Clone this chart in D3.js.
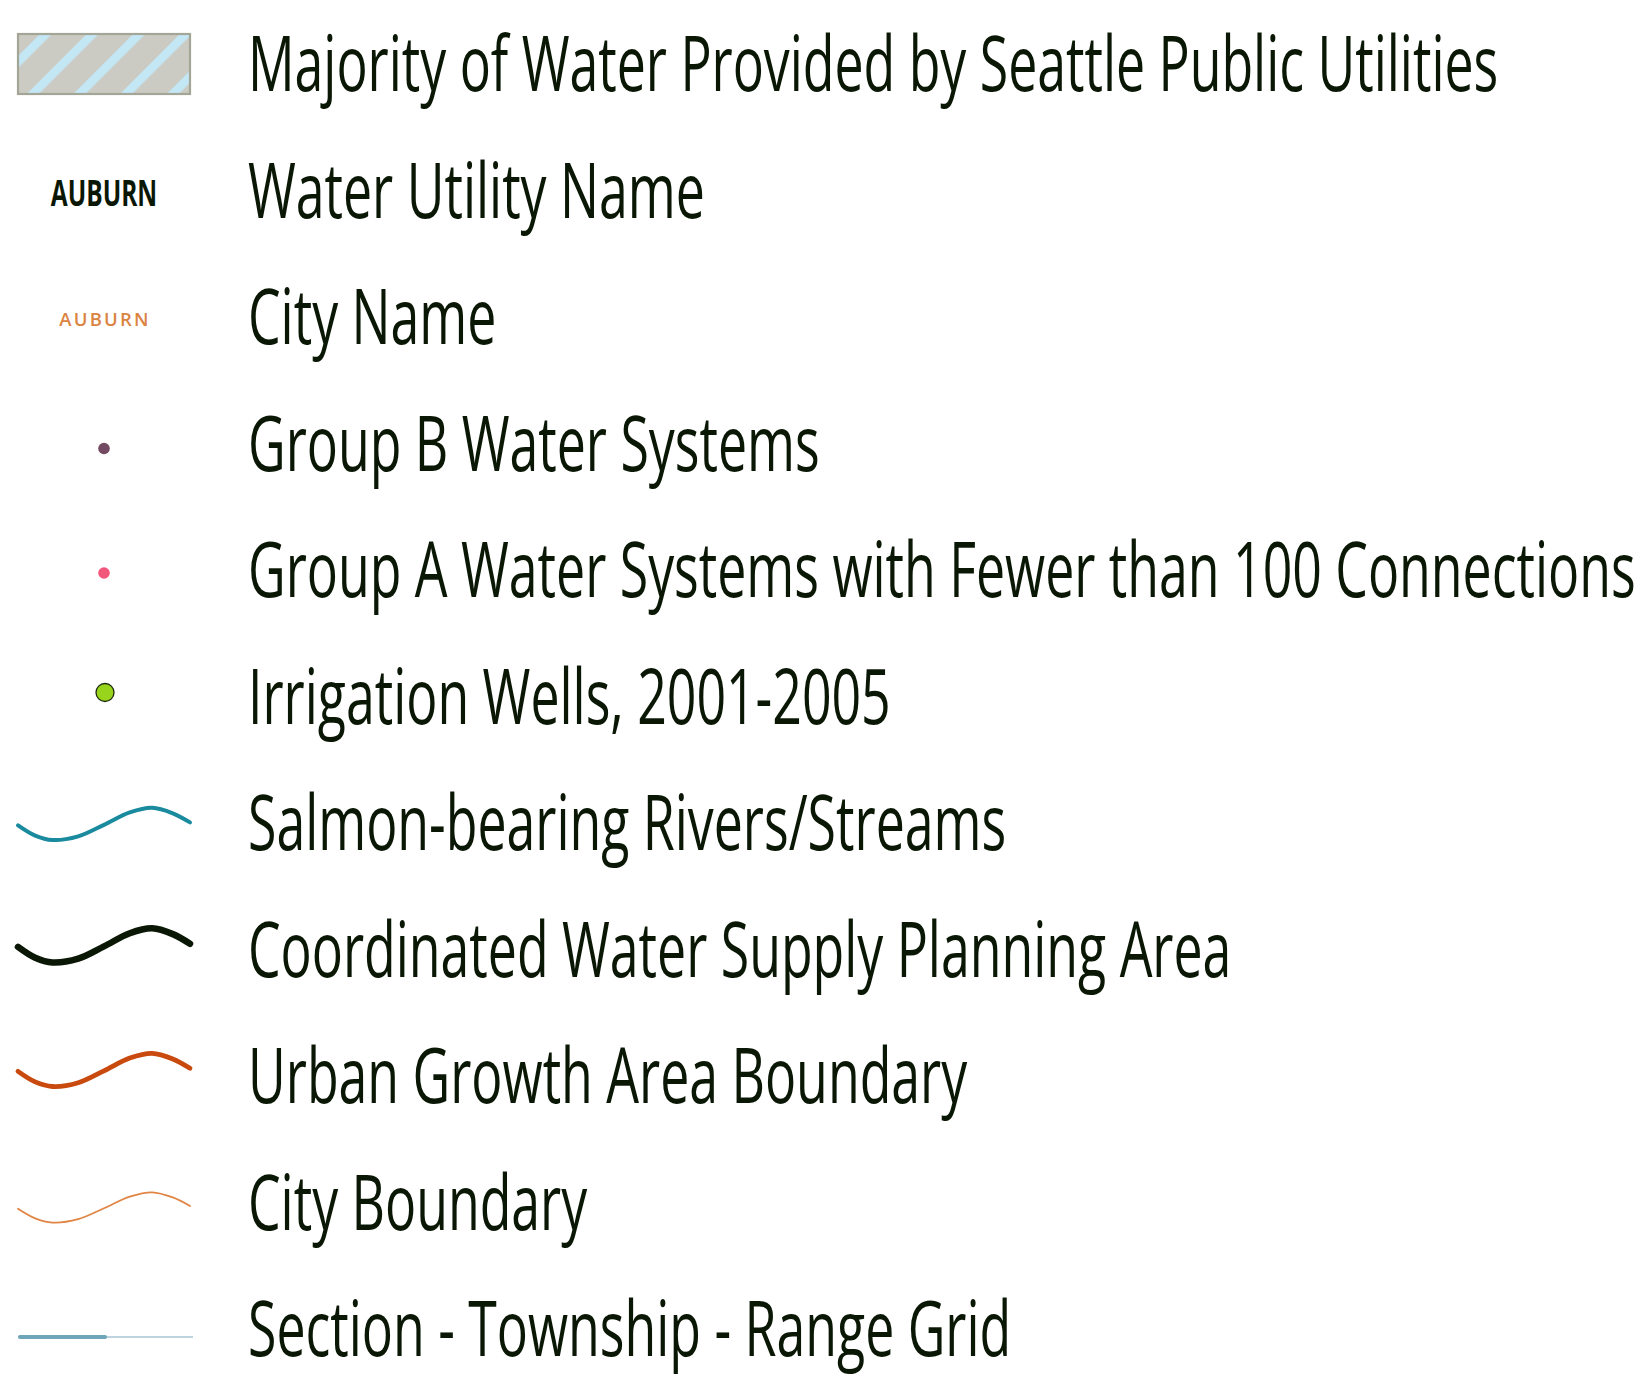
<!DOCTYPE html>
<html><head><meta charset="utf-8">
<script src="https://cdn.jsdelivr.net/npm/d3@7"></script>
<style>html,body{margin:0;padding:0;background:#ffffff}</style></head>
<body><svg id="chart" width="1649" height="1378"></svg>
<script>
// ---- data ----
const labels = [
  "Majority of Water Provided by Seattle Public Utilities",
  "Water Utility Name",
  "City Name",
  "Group B Water Systems",
  "Group A Water Systems with Fewer than 100 Connections",
  "Irrigation Wells, 2001-2005",
  "Salmon-bearing Rivers/Streams",
  "Coordinated Water Supply Planning Area",
  "Urban Growth Area Boundary",
  "City Boundary",
  "Section - Township - Range Grid"
];
const symbolTypes = ["hatch","utilityName","cityName","dot","dot","well","wave","wave","wave","wave","grid"];
const symbolColors = ["#cbcbc3","#0a1705","#db8442","#744a62","#f2587c","#97d41b","#1a8a9e","#0a1705","#c94a0e","#e08544","#6fa5b9"];
const sampleName = "AUBURN";
// wave symbol shape (relative x 0..1, relative y -1..1)
const waveShape = [[0,0.08],[0.1,0.7],[0.2,0.97],[0.35,0.75],[0.5,0.05],[0.65,-0.7],[0.78,-0.98],[0.9,-0.65],[1,-0.1]];

// ---- layout ----
const svg = d3.select("#chart");
const textColor = "#0a1705";
const iconX0 = 18, iconX1 = 190, iconCx = 104;
const textX = 248;
const y = d3.scalePoint().domain(d3.range(labels.length)).range([64, 1329]);
const iconDy = [0, 0, 0, 5, 3, -4, 1, -4, -6, 5, 8];

const defs = svg.append("defs");
const pat = defs.append("pattern").attr("id","hatch").attr("patternUnits","userSpaceOnUse")
  .attr("width",33).attr("height",33).attr("patternTransform","translate(10,0) rotate(45)");
pat.append("rect").attr("width",33).attr("height",33).attr("fill","#cbcbc3");
pat.append("rect").attr("x",0).attr("width",8.5).attr("height",33).attr("fill","#c3e7f5");

const wx = d3.scaleLinear().domain([0,1]).range([iconX0, iconX1]);
const waveStyles = {6:{w:4,a:16.5},7:{w:6.5,a:17.5},8:{w:4.8,a:17},9:{w:1.8,a:15.5}};

const rows = svg.selectAll("g.row").data(labels).join("g").attr("class","row")
  .attr("transform",(d,i)=>`translate(0,${y(i)})`);

rows.each(function(d,i){
  const g = d3.select(this).append("g").attr("transform",`translate(0,${iconDy[i]})`);
  const t = symbolTypes[i], c = symbolColors[i];
  if (t==="hatch") {
    g.append("rect").attr("x",iconX0).attr("y",-30).attr("width",iconX1-iconX0).attr("height",60)
      .attr("fill","url(#hatch)").attr("stroke","#a3a596").attr("stroke-width",2.2);
  } else if (t==="utilityName") {
    g.append("text").attr("x",iconCx).attr("y",15)
      .attr("text-anchor","middle").attr("font-family","Open Sans").attr("font-weight",700)
      .attr("font-size",36).attr("fill",c).text(sampleName)
      .attr("transform",`translate(${iconCx},0) scale(0.68,1) translate(${-iconCx},0)`);
  } else if (t==="cityName") {
    g.append("text").attr("x",iconCx+1).attr("y",9).attr("text-anchor","middle")
      .attr("font-family","Open Sans").attr("font-weight",600).attr("font-size",18.5)
      .attr("letter-spacing",2.2).attr("fill",c).text(sampleName);
  } else if (t==="dot") {
    g.append("circle").attr("cx",iconCx).attr("cy",0).attr("r",5.8).attr("fill",c);
  } else if (t==="well") {
    g.append("circle").attr("cx",iconCx+1).attr("cy",0).attr("r",9).attr("fill",c)
      .attr("stroke","#1d2a0e").attr("stroke-width",1.3);
  } else if (t==="wave") {
    const s = waveStyles[i];
    const line = d3.line().x(p=>wx(p[0])).y(p=>p[1]*s.a).curve(d3.curveCatmullRom);
    g.append("path").attr("d",line(waveShape)).attr("fill","none").attr("stroke",c)
      .attr("stroke-width",s.w).attr("stroke-linecap","round");
  } else if (t==="grid") {
    g.append("line").attr("x1",iconX0+3).attr("x2",193).attr("y1",0).attr("y2",0)
      .attr("stroke","#a9c4d2").attr("stroke-width",1.6);
    g.append("line").attr("x1",iconX0+2).attr("x2",105).attr("y1",0).attr("y2",0)
      .attr("stroke",c).attr("stroke-width",4.2).attr("stroke-linecap","round");
  }
});

const labelText = rows.append("text").attr("class","label").attr("x",textX).attr("y",27)
  .attr("font-family","Open Sans").attr("font-size",76).attr("fill",textColor).text(d=>d);

// condense all labels by one common factor (Myriad Condensed look), keeping the longest inside the page
const nodes = labelText.nodes();
const sx = Math.min(1264 / nodes[0].getComputedTextLength(), 1388 / nodes[4].getComputedTextLength());
labelText.attr("transform",`translate(${textX},0) scale(${sx},1) translate(${-textX},0)`);
</script>
</body></html>
